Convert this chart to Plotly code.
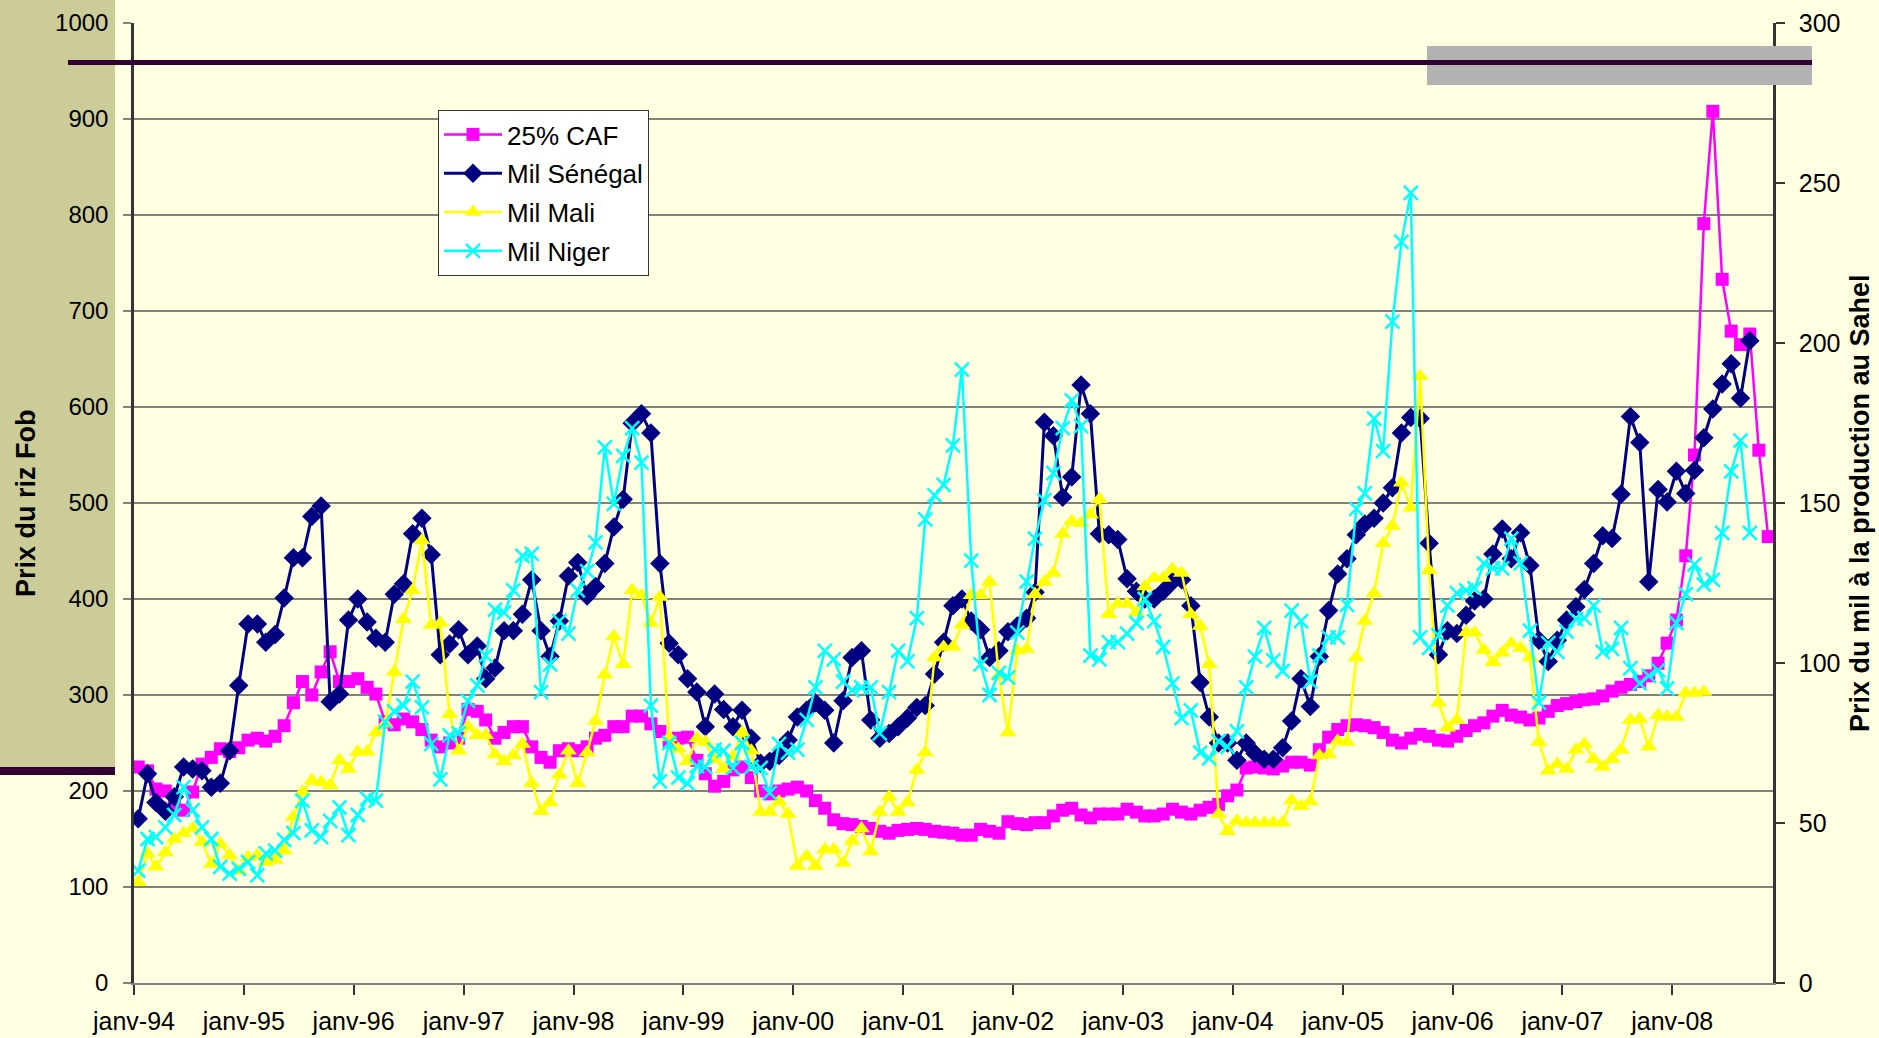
import pandas as pd
import plotly.graph_objects as go

# ---------------- data ----------------
start_month = "1994-01-01"
tick_years = list(range(1994, 2009))
tick_labels = ["janv-%02d" % (y % 100) for y in tick_years]

# 25% CAF - rice FOB price (left axis)
caf = [225, 221, 202, 200, 185, 180, 199, 228, 235, 244, 241, 245, 253, 255, 252, 257, 268, 292, 314, 300,
       324, 345, 314, 314, 317, 308, 301, 272, 269, 275, 272, 264, 253, 246, 250, 255, 285, 283, 274, 255,
       261, 267, 267, 246, 235, 230, 242, 244, 242, 246, 255, 258, 267, 267, 278, 278, 270, 262, 252, 255,
       256, 232, 218, 205, 210, 222, 225, 214, 200, 197, 200, 202, 204, 200, 190, 182, 170, 166, 165, 163,
       161, 158, 156, 159, 160, 161, 160, 158, 157, 156, 154, 154, 160, 158, 156, 168, 166, 165, 167, 167,
       174, 180, 182, 175, 172, 176, 176, 176, 181, 178, 174, 174, 176, 181, 178, 176, 180, 183, 186, 195,
       201, 224, 225, 224, 223, 226, 230, 230, 227, 243, 256, 264, 268, 269, 268, 266, 261, 253, 250, 255,
       259, 257, 253, 252, 257, 263, 268, 271, 278, 284, 279, 277, 274, 276, 283, 289, 291, 293, 295, 296,
       299, 304, 308, 311, 314, 320, 333, 354, 378, 445, 550, 791, 908, 733, 679, 665, 676, 555, 465]

# Mil Senegal (right axis)
senegal = [51.3, 65.4, 56.4, 53.7, 58.2, 67.5, 66.9, 66.3, 61.2, 62.4, 72.6, 93.0, 112.2, 112.2, 106.5, 108.9,
           120.3, 132.9, 132.9, 145.8, 149.1, 87.9, 90.3, 113.4, 120.0, 112.8, 107.7, 106.5, 121.5, 124.8,
           140.4, 145.2, 133.8, 102.6, 105.9, 110.4, 102.6, 105.3, 95.1, 98.4, 110.1, 110.1, 115.2, 126.0,
           110.1, 102.0, 113.1, 127.2, 131.4, 120.9, 123.9, 131.1, 142.5, 151.2, 174.9, 177.9, 171.9, 131.1,
           106.2, 102.6, 95.1, 90.9, 80.1, 90.3, 85.5, 80.1, 85.2, 76.5, 68.7, 69.3, 71.1, 75.9, 83.1, 85.2,
           87.6, 85.2, 75.0, 88.2, 101.7, 103.8, 82.2, 76.5, 78.0, 80.1, 82.8, 86.1, 86.7, 96.6, 106.5, 117.9,
           120.0, 113.1, 110.4, 101.7, 103.8, 109.8, 111.6, 114.0, 122.1, 175.2, 171.0, 151.8, 158.1, 186.9,
           177.9, 140.4, 140.1, 138.6, 126.3, 122.4, 120.0, 120.0, 122.4, 125.4, 126.0, 117.9, 93.9, 83.1,
           75.0, 75.0, 69.6, 75.0, 71.7, 69.9, 69.9, 73.5, 81.9, 95.1, 86.4, 102.0, 116.4, 127.8, 132.6, 140.1,
           143.4, 145.2, 150.0, 154.8, 171.9, 176.7, 176.4, 137.4, 102.6, 110.1, 109.2, 114.9, 119.4, 120.0,
           134.1, 141.9, 132.6, 140.7, 130.5, 107.1, 100.5, 107.1, 113.4, 117.6, 123.0, 131.1, 139.8, 138.9,
           152.7, 177.0, 168.9, 125.4, 154.2, 150.3, 159.9, 153.0, 160.2, 170.4, 179.4, 187.2, 193.5, 182.7,
           200.7]

# Mil Mali (right axis)
mali = [31.5, 40.5, 36.3, 40.8, 45.0, 46.8, 48.3, 44.1, 37.2, 43.5, 39.9, 35.1, 39.3, 39.9, 37.8, 38.4, 41.4,
        51.9, 59.7, 63.3, 62.7, 61.8, 69.6, 66.9, 72.3, 72.3, 78.3, 81.0, 97.2, 113.7, 122.7, 138.3, 111.9,
        112.5, 84.0, 72.6, 80.1, 77.4, 77.4, 71.4, 69.3, 71.1, 74.7, 62.4, 53.7, 56.4, 65.1, 72.6, 62.4, 72.0,
        81.9, 96.3, 108.3, 99.6, 122.7, 121.2, 112.5, 120.6, 76.8, 73.2, 69.3, 76.5, 75.3, 69.9, 66.9, 70.8,
        78.3, 72.6, 53.4, 53.4, 56.7, 52.8, 36.6, 39.6, 36.6, 41.7, 41.7, 37.5, 44.4, 48.3, 41.1, 53.4, 58.2,
        53.4, 56.4, 66.6, 72.0, 101.7, 105.0, 105.0, 111.9, 121.2, 121.2, 125.4, 96.0, 78.3, 103.8, 104.4,
        121.5, 125.4, 128.1, 140.4, 144.3, 143.7, 146.4, 151.2, 115.2, 118.5, 118.5, 115.8, 123.9, 126.6,
        126.6, 129.3, 128.1, 115.2, 111.6, 99.6, 52.8, 47.4, 50.7, 50.1, 50.1, 50.1, 50.1, 50.1, 57.0, 55.2,
        56.7, 71.1, 71.4, 75.6, 75.3, 101.7, 113.1, 121.8, 137.4, 142.8, 156.3, 148.5, 189.6, 129.0, 87.6,
        79.8, 82.2, 109.5, 109.5, 104.1, 100.2, 103.2, 106.2, 104.7, 101.7, 75.3, 66.3, 68.4, 66.9, 72.9,
        74.7, 69.9, 67.5, 69.9, 72.9, 82.2, 82.5, 73.8, 83.7, 83.1, 83.1, 90.6, 90.6, 90.9]

# Mil Niger (right axis)
niger = [35.1, 45.0, 45.6, 48.6, 52.5, 61.2, 54.0, 48.6, 45.0, 36.3, 34.2, 35.7, 37.8, 33.6, 40.5, 41.4, 44.7,
         46.8, 57.0, 47.7, 45.6, 50.7, 54.9, 46.2, 52.5, 57.6, 57.0, 81.6, 84.9, 86.7, 94.2, 86.1, 74.7, 63.6,
         77.4, 78.0, 88.2, 93.0, 102.3, 116.7, 115.8, 122.7, 133.5, 134.1, 90.9, 99.6, 113.1, 109.2, 122.7,
         128.7, 137.7, 167.4, 149.7, 164.7, 173.4, 162.6, 86.7, 63.0, 75.0, 64.2, 62.4, 67.8, 67.5, 72.9, 72.6,
         67.2, 75.0, 67.5, 67.2, 59.4, 74.7, 72.0, 72.9, 82.2, 92.4, 103.8, 101.1, 94.2, 91.5, 92.4, 92.4, 78.0,
         90.9, 103.8, 100.5, 114.0, 144.9, 152.4, 155.7, 168.0, 191.7, 132.0, 99.6, 90.0, 96.9, 95.4, 109.5,
         125.4, 138.9, 150.9, 159.3, 173.4, 182.1, 174.0, 102.3, 101.1, 106.5, 106.5, 109.2, 112.5, 120.0,
         113.1, 105.0, 93.6, 82.8, 85.2, 72.0, 70.2, 75.6, 73.8, 78.6, 92.4, 102.0, 111.0, 100.8, 97.5, 116.4,
         113.1, 94.2, 102.3, 108.0, 108.0, 118.2, 148.2, 153.0, 176.4, 166.2, 206.7, 231.6, 246.9, 108.0,
         104.7, 108.6, 117.9, 121.8, 122.7, 123.3, 131.1, 129.6, 129.6, 138.9, 131.1, 110.1, 87.6, 106.2,
         103.5, 109.8, 113.7, 114.0, 117.9, 103.5, 104.4, 111.0, 98.4, 93.6, 96.0, 97.8, 92.1, 112.5, 121.5,
         130.8, 124.5, 126.0, 140.7, 159.9, 169.5, 140.7]

left_ticks = list(range(0, 1001, 100))
right_ticks = list(range(0, 301, 50))

# ---------------- layout constants (pixels) ----------------
W, H = 1879, 1038
ML, MR, MT, MB = 134, 106, 23, 55
PW, PH = W - ML - MR, H - MT - MB
BG = "#FFFFE1"
FONT = "Liberation Sans, Arial, sans-serif"


def px(x):
    return (x - ML) / PW


def py(y):
    return (H - MB - y) / PH


def months(n):
    return pd.date_range(start_month, periods=n, freq="MS") + pd.Timedelta(days=14)


fig = go.Figure()

fig.add_trace(go.Scatter(
    x=months(len(caf)), y=caf, name="25% CAF", mode="lines+markers", legendgroup="a",
    line=dict(color="#FF00FF", width=2.5),
    marker=dict(symbol="square", size=13, color="#FF00FF"), yaxis="y"))
fig.add_trace(go.Scatter(
    x=months(len(senegal)), y=senegal, name="Mil Sénégal", mode="lines+markers", legendgroup="b",
    line=dict(color="#000080", width=3),
    marker=dict(symbol="diamond", size=15, color="#000080"), yaxis="y2"))
fig.add_trace(go.Scatter(
    x=months(len(mali)), y=mali, name="Mil Mali", mode="lines+markers", legendgroup="c",
    line=dict(color="#FFFF00", width=2.5),
    marker=dict(symbol="triangle-up", size=15, color="#FFFF00"), yaxis="y2"))
fig.add_trace(go.Scatter(
    x=months(len(niger)), y=niger, name="Mil Niger", mode="lines+markers", legendgroup="d",
    line=dict(color="#00FFFF", width=2.5),
    marker=dict(symbol="x-thin", size=14, color="#00FFFF",
                line=dict(color="#00FFFF", width=2.5)), yaxis="y2"))

shapes = [
    # khaki side panel
    dict(type="rect", xref="paper", yref="paper", x0=px(0), x1=px(115), y0=py(767), y1=py(-5),
         fillcolor="#CCCC99", line=dict(width=0), layer="below"),
    dict(type="rect", xref="paper", yref="paper", x0=px(0), x1=px(115), y0=py(775), y1=py(767),
         fillcolor="#330033", line=dict(width=0), layer="above"),
    # grey box top right
    dict(type="rect", xref="paper", yref="paper", x0=px(1427), x1=px(1812), y0=py(85), y1=py(46),
         fillcolor="#B2B2B2", line=dict(width=0), layer="above"),
    # dark purple line across the top
    dict(type="rect", xref="paper", yref="paper", x0=px(68), x1=px(1812), y0=py(65), y1=py(60),
         fillcolor="#330033", line=dict(width=0), layer="above"),
]

annotations = [
    dict(text="<b>Prix du riz Fob</b>", xref="paper", yref="paper", x=px(26), y=py(503),
         textangle=-90, showarrow=False, font=dict(family=FONT, size=27, color="#000000"),
         xanchor="center", yanchor="middle"),
    dict(text="<b>Prix du mil à la production au Sahel</b>", xref="paper", yref="paper",
         x=px(1860), y=py(503), textangle=-90, showarrow=False,
         font=dict(family=FONT, size=27, color="#000000"), xanchor="center", yanchor="middle"),
]

fig.update_layout(
    width=W, height=H,
    margin=dict(l=ML, r=MR, t=MT, b=MB, autoexpand=False),
    paper_bgcolor=BG, plot_bgcolor=BG,
    font=dict(family=FONT, size=24, color="#000000"),
    showlegend=True,
    legend=dict(x=px(438), y=py(110), xanchor="left", yanchor="top",
                bgcolor="#FFFFFF", bordercolor="#333333", borderwidth=1,
                font=dict(family=FONT, size=26, color="#000000"),
                tracegroupgap=2, itemwidth=58, traceorder="grouped"),
    xaxis=dict(type="date", range=["1994-01-01", "2008-12-01"],
               tickvals=[pd.Timestamp("%d-01-01" % y) for y in tick_years], ticktext=tick_labels,
               ticks="outside", ticklen=10, tickwidth=1.5, tickcolor="#333333",
               showline=True, linecolor="#808080", linewidth=2,
               showgrid=False, zeroline=False, ticklabelstandoff=5,
               tickfont=dict(family=FONT, size=25)),
    yaxis=dict(range=[0, 1000], tickvals=left_ticks, ticks="outside", ticklen=8, tickcolor="#808080",
               tickwidth=1.5, showline=True, linecolor="#333333", linewidth=2.5,
               showgrid=True, gridcolor="#808080", gridwidth=1.5, zeroline=False,
               ticklabelstandoff=10, tickfont=dict(family=FONT, size=24)),
    yaxis2=dict(range=[0, 300], tickvals=right_ticks, overlaying="y", side="right",
                ticks="outside", ticklen=9, tickcolor="#333333", tickwidth=1.5,
                showline=True, linecolor="#333333", linewidth=2.5,
                showgrid=False, zeroline=False, ticklabelstandoff=9,
                tickfont=dict(family=FONT, size=25)),
    shapes=shapes, annotations=annotations,
)

fig.write_html("out.html", config={"displayModeBar": False},
               post_script="document.body.style.margin='0px';")
